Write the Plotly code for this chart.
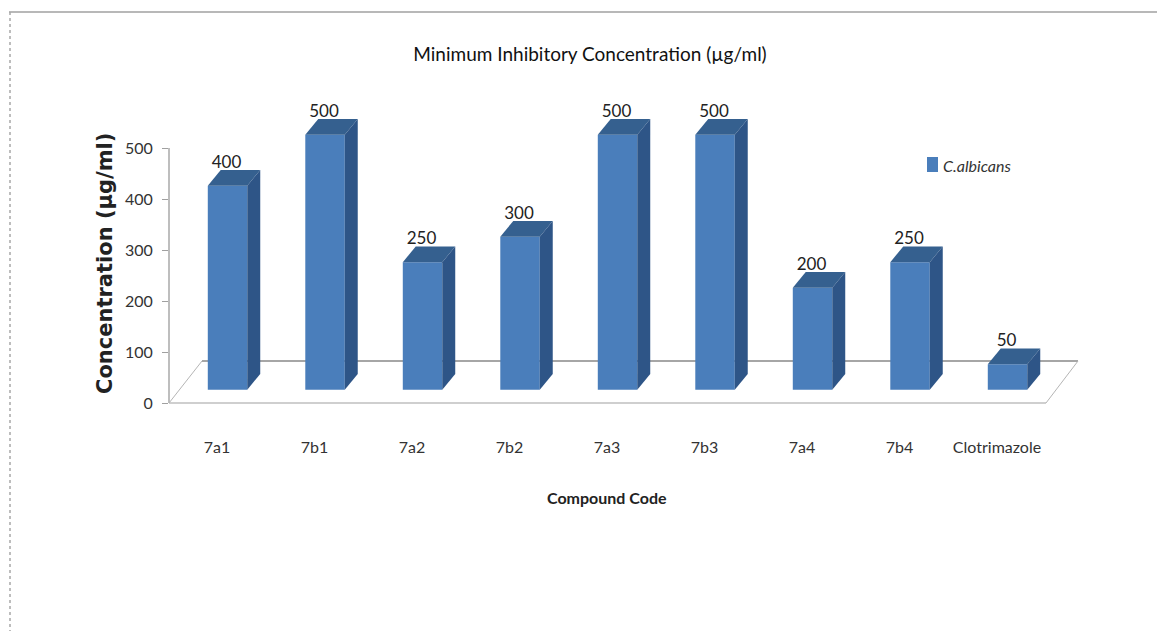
import plotly.graph_objects as go

# Chart data
compounds = ["7a1", "7b1", "7a2", "7b2", "7a3", "7b3", "7a4", "7b4", "Clotrimazole"]
mic_values = [400, 500, 250, 300, 500, 500, 200, 250, 50]
y_ticks = [0, 100, 200, 300, 400, 500]
series_name = "C.albicans"

# Pseudo-3D geometry, in axis units
BAR_SHIFT = 0.108      # bars sit right of their tick label on the floor
BAR_WIDTH = 0.405
BAR_BASE = 26
DEPTH_X = 0.133
DEPTH_Y = 31

FRONT = "#4a7ebb"
TOP = "#35608f"
SIDE = "#2e5587"
TEXT_FONT = "Lato"

# Page layout in pixels; the y range runs past 500 so the tallest bars stay visible
W, H = 1157, 631
Y_MAX = 600
LEFT, RIGHT, BOTTOM = 169, 1078, 403
PX_PER_UNIT = 255 / 500
TOP_PX = BOTTOM - Y_MAX * PX_PER_UNIT


def px(x):
    return (x - LEFT) / (RIGHT - LEFT)


def py(y):
    return (BOTTOM - y) / (BOTTOM - TOP_PX)


positions = list(range(len(compounds)))
centres = [p + BAR_SHIFT for p in positions]

fig = go.Figure()

fig.add_trace(go.Bar(
    x=centres, y=mic_values, base=BAR_BASE, width=BAR_WIDTH,
    marker=dict(color=FRONT, line=dict(width=0)),
    name=series_name, showlegend=False, hoverinfo="x+y",
))

# Top and side faces of each bar follow its value
for c, v in zip(centres, mic_values):
    l, r = c - BAR_WIDTH / 2, c + BAR_WIDTH / 2
    top = BAR_BASE + v
    fig.add_trace(go.Scatter(
        x=[l, r, r + DEPTH_X, l + DEPTH_X, l],
        y=[top, top, top + DEPTH_Y, top + DEPTH_Y, top],
        mode="lines", fill="toself", fillcolor=TOP, line=dict(width=0, color=TOP),
        showlegend=False, hoverinfo="skip",
    ))
    fig.add_trace(go.Scatter(
        x=[r, r + DEPTH_X, r + DEPTH_X, r, r],
        y=[BAR_BASE, BAR_BASE + DEPTH_Y, top + DEPTH_Y, top, BAR_BASE],
        mode="lines", fill="toself", fillcolor=SIDE, line=dict(width=0, color=SIDE),
        showlegend=False, hoverinfo="skip",
    ))

# Value labels above the top faces
fig.add_trace(go.Scatter(
    x=[c - 0.01 for c in centres],
    y=[BAR_BASE + v + DEPTH_Y - 4 for v in mic_values],
    text=[str(v) for v in mic_values],
    mode="text", textposition="top center",
    textfont=dict(family=TEXT_FONT, size=17, color="#222222"),
    showlegend=False, hoverinfo="skip", cliponaxis=False,
))

shapes = [
    # Value axis line and floor of the 3D plot
    dict(type="line", xref="paper", yref="y", layer="below",
         x0=0, y0=0, x1=0, y1=500, line=dict(color="#a8a8a8", width=1.5)),
    dict(type="line", xref="paper", yref="paper", layer="below",
         x0=px(202), y0=py(361), x1=px(1078), y1=py(361),
         line=dict(color="#a6a6a6", width=2)),
    dict(type="line", xref="paper", yref="paper", layer="below",
         x0=px(169), y0=py(403), x1=px(1046), y1=py(403),
         line=dict(color="#cfcfcf", width=2)),
    dict(type="line", xref="paper", yref="paper", layer="below",
         x0=px(169), y0=py(403), x1=px(202), y1=py(361),
         line=dict(color="#b5b5b5", width=1)),
    dict(type="line", xref="paper", yref="paper", layer="below",
         x0=px(1046), y0=py(403), x1=px(1078), y1=py(361),
         line=dict(color="#b5b5b5", width=1)),
    # Page frame
    dict(type="line", xref="paper", yref="paper", layer="below",
         x0=px(9), y0=py(12), x1=px(1157), y1=py(12),
         line=dict(color="#a0a0a0", width=1.5)),
    dict(type="line", xref="paper", yref="paper", layer="below",
         x0=px(10), y0=py(12), x1=px(10), y1=py(631),
         line=dict(color="#a8a8a8", width=1.5, dash="dot")),
    # Legend swatch
    dict(type="rect", xref="paper", yref="paper",
         x0=px(927), y0=py(157), x1=px(938), y1=py(172),
         fillcolor=FRONT, line=dict(width=0)),
]

annotations = [
    dict(text=f"<i>{series_name}</i>", xref="paper", yref="paper",
         x=px(941), y=py(165), xanchor="left", yanchor="middle", showarrow=False,
         font=dict(family=TEXT_FONT, size=16, color="#333333")),
    dict(text="<b>Compound Code</b>", xref="paper", yref="paper",
         x=px(607), y=py(497), xanchor="center", yanchor="middle", showarrow=False,
         font=dict(family=TEXT_FONT, size=16, color="#222222")),
    dict(text="<b>Concentration (µg/ml)</b>", xref="paper", yref="paper",
         x=px(105), y=py(264), xanchor="center", yanchor="middle", showarrow=False,
         textangle=-90,
         font=dict(family="DejaVu Sans", size=21, color="#222222")),
]

fig.update_layout(
    width=W, height=H,
    autosize=False,
    margin=dict(l=LEFT, r=W - RIGHT, t=TOP_PX, b=H - BOTTOM, pad=0),
    paper_bgcolor="white", plot_bgcolor="rgba(0,0,0,0)",
    showlegend=False,
    title=dict(
        text="Minimum Inhibitory Concentration (µg/ml)",
        x=590 / W, xanchor="center", y=1 - 54 / H, yanchor="middle",
        font=dict(family=TEXT_FONT, size=19, color="#111111"),
    ),
    shapes=shapes,
    annotations=annotations,
    xaxis=dict(
        range=[(LEFT - 217) / 97.5, (RIGHT - 217) / 97.5],
        tickmode="array", tickvals=positions, ticktext=compounds,
        ticks="", showgrid=False, zeroline=False, showline=False,
        ticklabelstandoff=33,
        tickfont=dict(family=TEXT_FONT, size=16, color="#333333"),
    ),
    yaxis=dict(
        range=[0, Y_MAX],
        tickmode="array", tickvals=y_ticks, ticktext=[str(t) for t in y_ticks],
        ticks="outside", ticklen=6, tickcolor="#a0a0a0", tickwidth=1,
        showline=False,
        showgrid=False, zeroline=False,
        ticklabelstandoff=6,
        tickfont=dict(family=TEXT_FONT, size=16, color="#333333"),
    ),
)

fig.write_html("out.html")
